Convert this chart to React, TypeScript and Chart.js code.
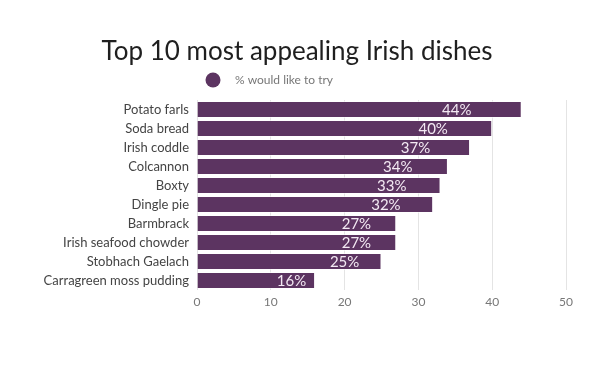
import React, { useEffect, useRef } from "react";
import { Chart, registerables } from "chart.js";

Chart.register(...registerables);

const categories = [
  "Potato farls",
  "Soda bread",
  "Irish coddle",
  "Colcannon",
  "Boxty",
  "Dingle pie",
  "Barmbrack",
  "Irish seafood chowder",
  "Stobhach Gaelach",
  "Carragreen moss pudding",
];
const values = [44, 40, 37, 34, 33, 32, 27, 27, 25, 16];
const xTicks = [0, 10, 20, 30, 40, 50];
const seriesName = "% would like to try";
const titleText = "Top 10 most appealing Irish dishes";

const FONT = "Lato, 'Open Sans', sans-serif";
const BAR = "#5c3461";

const overlayPlugin = {
  id: "overlay",
  afterDatasetsDraw(chart: any) {
    const ctx = chart.ctx;
    const meta = chart.getDatasetMeta(0);
    const xs = chart.scales.x;
    ctx.save();
    ctx.font = `15px ${FONT}`;
    ctx.fillStyle = "#f3e9f3";
    ctx.textAlign = "center";
    ctx.textBaseline = "middle";
    meta.data.forEach((el: any, i: number) => {
      const v = values[i];
      const x0 = xs.getPixelForValue(0);
      const x1 = xs.getPixelForValue(v);
      const cx = x0 + (x1 - x0) * 0.8;
      ctx.fillText(v + "%", cx, el.y + 1);
    });
    ctx.restore();
  },
  afterDraw(chart: any) {
    const ctx = chart.ctx;
    ctx.save();
    ctx.font = `26px ${FONT}`;
    ctx.fillStyle = "#1f1f1f";
    ctx.textAlign = "center";
    ctx.textBaseline = "middle";
    ctx.fillText(titleText, 297, 52);
    ctx.beginPath();
    ctx.arc(213, 80, 7.5, 0, Math.PI * 2);
    ctx.fillStyle = BAR;
    ctx.fill();
    ctx.font = `12px ${FONT}`;
    ctx.fillStyle = "#777";
    ctx.textAlign = "left";
    ctx.fillText(seriesName, 235, 80);
    ctx.restore();
  },
};

export default function App() {
  const ref = useRef<HTMLCanvasElement | null>(null);
  useEffect(() => {
    document.body.style.margin = "0";
    const chart = new Chart(ref.current as HTMLCanvasElement, {
      type: "bar",
      data: {
        labels: categories,
        datasets: [
          {
            label: seriesName,
            data: values,
            backgroundColor: BAR,
            borderColor: "rgba(255,255,255,0.55)",
            borderWidth: 1,
            barPercentage: 0.9,
            categoryPercentage: 1,
          },
        ],
      },
      options: {
        indexAxis: "y",
        responsive: false,
        animation: false,
        maintainAspectRatio: false,
        layout: { padding: { left: 0, right: 44, top: 100, bottom: 78 } },
        plugins: {
          legend: { display: false },
          title: { display: false },
          tooltip: { enabled: false },
        },
        scales: {
          x: {
            min: 0,
            max: 50,
            afterBuildTicks: (s: any) => {
              s.ticks = xTicks.map((v) => ({ value: v }));
            },
            afterFit: (s: any) => {
              s.height = 20;
            },
            grid: { color: "#e4e4e4", drawTicks: false },
            border: { display: false },
            ticks: {
              color: "#777",
              font: { family: FONT, size: 12 },
              padding: 5,
            },
          },
          y: {
            afterFit: (s: any) => {
              s.width = 197;
            },
            grid: { display: false, drawTicks: false },
            border: { display: false },
            ticks: {
              color: "#444",
              font: { family: FONT, size: 13 },
              padding: 8,
            },
          },
        },
      },
      plugins: [overlayPlugin],
    });
    return () => chart.destroy();
  }, []);
  return (
    <div style={{ width: 610, height: 388 }}>
      <canvas ref={ref} width={610} height={388} style={{ display: "block" }} />
    </div>
  );
}
